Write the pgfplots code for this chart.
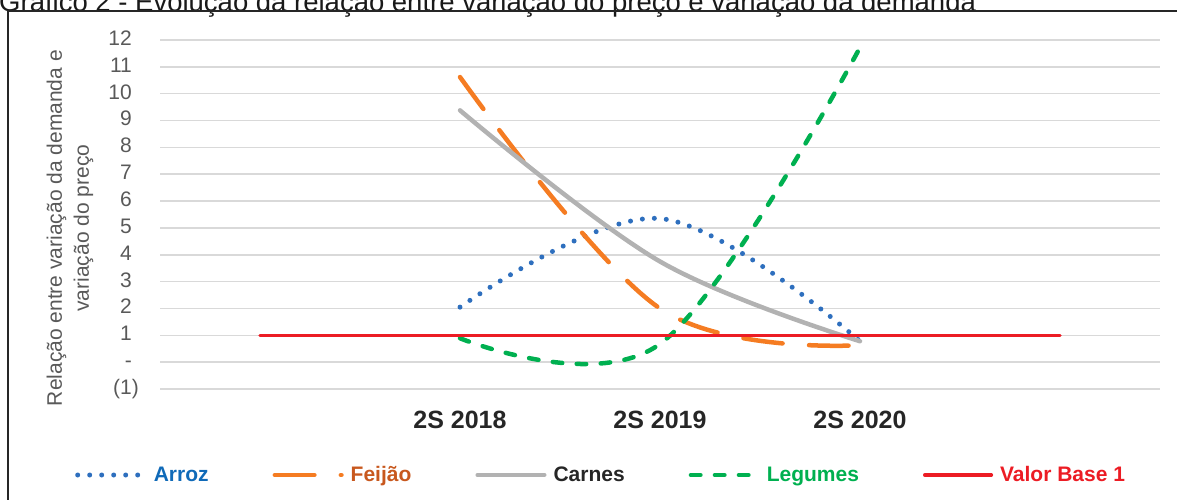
\documentclass[border=0pt]{standalone}
\usepackage{fontspec}
\setmainfont{Liberation Sans}
\usepackage{pgfplots}
\pgfplotsset{compat=1.18}
\definecolor{cArroz}{RGB}{46,111,190}
\definecolor{tArroz}{RGB}{16,106,184}
\definecolor{cFeijao}{RGB}{245,124,34}
\definecolor{tFeijao}{RGB}{200,88,30}
\definecolor{cCarnes}{RGB}{178,178,178}
\definecolor{tCarnes}{RGB}{38,38,38}
\definecolor{cLegumes}{RGB}{0,176,80}
\definecolor{cBase}{RGB}{236,28,36}
\definecolor{cGrid}{RGB}{217,217,217}
\definecolor{cTick}{RGB}{89,89,89}

\begin{document}
\begin{tikzpicture}[x=1pt,y=1pt]
\useasboundingbox (0,0) rectangle (1177,-499);
\node[anchor=base west, inner sep=0pt, font=\fontsize{27.5}{30}\selectfont, text=black!90] at (-1,-11)
  {Gráfico 2 - Evolução da relação entre variação do preço e variação da demanda};
\draw[line width=2pt, black!85] (8,-11) rectangle (1190,-520);
\begin{axis}[at={(160pt,-40pt)}, anchor=north west, scale only axis,
  width=1000pt, height=349pt,
  xmin=-0.5, xmax=4.5, ymin=-1, ymax=12,
  axis line style={draw=none}, major tick length=0pt,
  ymajorgrids, grid style={cGrid, line width=1.5pt},
  ytick={-1,0,1,2,3,4,5,6,7,8,9,10,11,12},
  yticklabels={(1),-\phantom{)},1\phantom{)},2\phantom{)},3\phantom{)},4\phantom{)},5\phantom{)},6\phantom{)},7\phantom{)},8\phantom{)},9\phantom{)},10\phantom{)},11\phantom{)},12\phantom{)}},
  yticklabel style={font=\fontsize{21}{24}\selectfont, text=cTick, anchor=east, inner sep=0pt, xshift=-21pt},
  xtick={1,2,3}, xticklabels={2S 2018,2S 2019,2S 2020},
  xticklabel style={font=\fontsize{25}{28}\selectfont\bfseries, text=tCarnes, anchor=north, inner sep=0pt, yshift=-22pt},
  ylabel={Relação entre variação da demanda e\\variação do preço},
  ylabel style={at={(axis description cs:-0.09,0.461)}, anchor=center, align=center,
    font=\fontsize{21}{27}\selectfont, text=cTick},
  legend columns=5,
  legend image code/.code={\draw[#1] (0pt,0pt) -- (66.6pt,0pt);},
  legend style={at={(axis description cs:-0.085,-0.2464)}, anchor=west, draw=none, fill=none,
    inner sep=0pt, nodes={inner sep=0pt}, font=\fontsize{21}{24}\selectfont\bfseries,
    /tikz/every odd column/.append style={column sep=7pt},
    /tikz/every even column/.append style={column sep=64pt}},
  every axis plot/.append style={smooth, tension=0.6},
  clip=false]
\addplot[cArroz, line width=5pt, line cap=round, dash pattern=on 0pt off 12pt]
  coordinates {(1,2.05) (2,5.35) (3,0.78)};
\addlegendentry{\textcolor{tArroz}{Arroz}}
\addplot[cFeijao, line width=4.5pt, line cap=round, dash pattern=on 39.5pt off 26.5pt]
  coordinates {(1,10.62) (2,2.0) (3,0.63)};
\addlegendentry{\textcolor{tFeijao}{Feijão}}
\addplot[cCarnes, line width=4.5pt, line cap=round]
  coordinates {(1,9.38) (2,3.75) (3,0.78)};
\addlegendentry{\textcolor{tCarnes}{Carnes}}
\addplot[cLegumes, line width=4.5pt, line cap=round, dash pattern=on 9.5pt off 14.5pt]
  coordinates {(1,0.89) (2,0.68) (3,11.72)};
\addlegendentry{\textcolor{cLegumes}{Legumes}}
\addplot[cBase, line width=3.5pt, line cap=round]
  coordinates {(0,1) (4,1)};
\addlegendentry{\textcolor{cBase}{Valor Base 1}}
\end{axis}
\end{tikzpicture}
\end{document}
